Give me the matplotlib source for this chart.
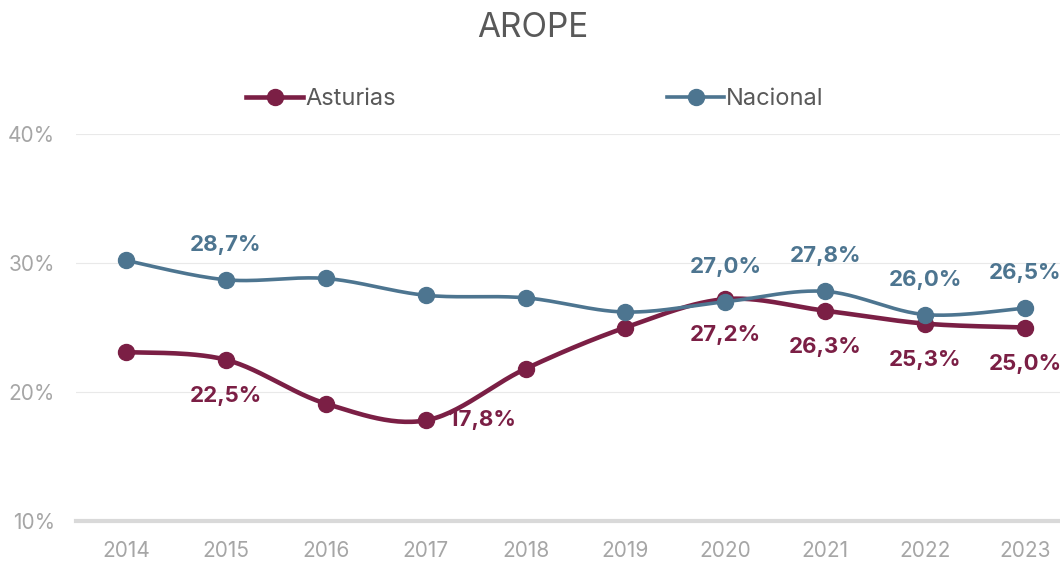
import numpy as np
import matplotlib
matplotlib.use("Agg")
import matplotlib.pyplot as plt
from matplotlib.lines import Line2D

plt.rcParams['font.family'] = ['Inter', 'DejaVu Sans']

years = ["2014", "2015", "2016", "2017", "2018", "2019", "2020", "2021", "2022", "2023"]
asturias = [23.1, 22.5, 19.1, 17.8, 21.8, 25.0, 27.2, 26.3, 25.3, 25.0]
nacional = [30.2, 28.7, 28.8, 27.5, 27.3, 26.2, 27.0, 27.8, 26.0, 26.5]
asturias_labeled = ["2015", "2017", "2020", "2021", "2022", "2023"]
nacional_labeled = ["2015", "2020", "2021", "2022", "2023"]
yticks = [10, 20, 30, 40]

c_ast = "#7B1F45"
c_nac = "#4D7590"

def smooth(x, y, n=30):
    x = np.asarray(x, float); y = np.asarray(y, float)
    px = np.concatenate([[x[0]], x, [x[-1]]])
    py = np.concatenate([[y[0]], y, [y[-1]]])
    xs, ys = [], []
    t = np.linspace(0, 1, n)
    for i in range(1, len(px) - 2):
        p0, p1, p2, p3 = [np.array([px[j], py[j]]) for j in (i - 1, i, i + 1, i + 2)]
        b1 = p1 + (p2 - p0) / 6
        b2 = p2 - (p3 - p1) / 6
        pts = ((1 - t) ** 3)[:, None] * p1 + (3 * (1 - t) ** 2 * t)[:, None] * b1 \
            + (3 * (1 - t) * t ** 2)[:, None] * b2 + (t ** 3)[:, None] * p2
        xs.append(pts[:, 0]); ys.append(pts[:, 1])
    return np.concatenate(xs), np.concatenate(ys)

fig = plt.figure(figsize=(10.6, 5.62), dpi=100)
ax = fig.add_axes([76 / 1060, 41 / 562, 999 / 1060, 387 / 562])
x = np.arange(len(years))

ax.set_xlim(-0.5, len(years) - 0.5)
ax.set_ylim(10, 40)
ax.set_yticks(yticks)
ax.set_yticklabels([f"{v}%" for v in yticks])
ax.set_xticks(x)
ax.set_xticklabels(years)
for s in ["top", "right", "left"]:
    ax.spines[s].set_visible(False)
ax.spines["bottom"].set_color("#D9D9D9")
ax.spines["bottom"].set_linewidth(3)
ax.tick_params(axis="both", length=0, labelsize=15, colors="#A6A6A6")
ax.tick_params(axis="y", pad=15)
ax.tick_params(axis="x", pad=14.5)
ax.grid(axis="y", color="#E9E9E9", linewidth=0.8)
ax.set_axisbelow(True)

sx, sy = smooth(x, asturias)
ax.plot(sx, sy, color=c_ast, lw=3.3, solid_capstyle="round", zorder=3)
ax.plot(x, asturias, "o", color=c_ast, ms=11.5, zorder=3)
sx, sy = smooth(x, nacional)
ax.plot(sx, sy, color=c_nac, lw=2.6, solid_capstyle="round", zorder=4)
ax.plot(x, nacional, "o", color=c_nac, ms=11.5, zorder=4)

def fmt(v):
    return f"{v:.1f}%".replace(".", ",")

for yr in asturias_labeled:
    i = years.index(yr)
    if yr == "2017":
        ax.annotate(fmt(asturias[i]), (i, asturias[i]), xytext=(57, 0), textcoords="offset pixels",
                    ha="center", va="center", fontsize=16, fontweight="bold", color=c_ast, zorder=5)
    else:
        ax.annotate(fmt(asturias[i]), (i, asturias[i]), xytext=(0, -36), textcoords="offset pixels",
                    ha="center", va="center", fontsize=16, fontweight="bold", color=c_ast, zorder=5)
for yr in nacional_labeled:
    i = years.index(yr)
    ax.annotate(fmt(nacional[i]), (i, nacional[i]), xytext=(0, 35), textcoords="offset pixels",
                ha="center", va="center", fontsize=16, fontweight="bold", color=c_nac, zorder=5)

fig.text(533 / 1060, 1 - 28 / 562, "AROPE", ha="center", va="center", fontsize=24, color="#595959")

handles = [Line2D([], [], color=c_ast, lw=3.3, marker="o", ms=11.5),
           Line2D([], [], color=c_nac, lw=2.6, marker="o", ms=11.5)]
fig.legend(handles, ["Asturias", "Nacional"], loc="center", bbox_to_anchor=(535 / 1060, 1 - 99 / 562),
           ncol=2, frameon=False, fontsize=17, labelcolor="#595959", handlelength=2.4,
           handletextpad=0.1, columnspacing=11.5)

fig.savefig("out.png", dpi=100)
